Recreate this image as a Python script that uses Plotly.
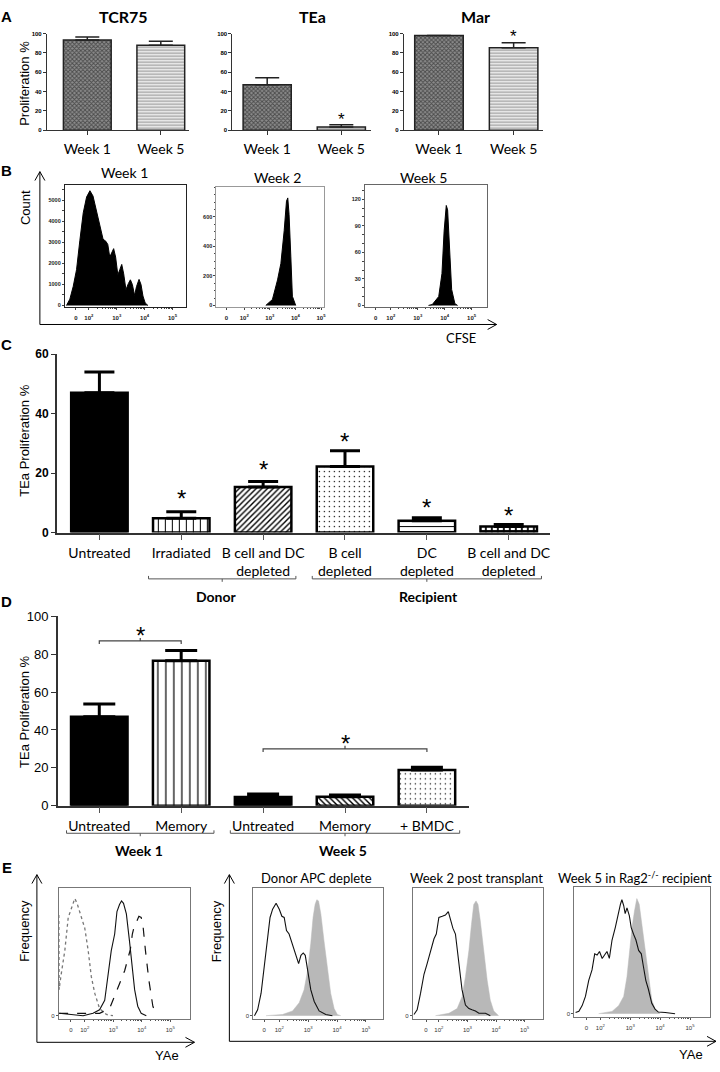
import numpy as np
import plotly.graph_objects as go

W, H = 720, 1072

# ---------------- Panel A data ----------------
a_titles = ["TCR75", "TEa", "Mar"]
a_weeks = ["Week 1", "Week 5"]
a_tcr75 = [93.5, 88.0]
a_tcr75_err = [3.0, 4.0]
a_tea = [47.0, 3.4]
a_tea_err = [7.3, 2.2]
a_mar = [98.0, 85.5]
a_mar_err = [0.0, 5.0]
a_star_y = [None, 15.0, 101.0]

# ---------------- Panel B data (CFSE histograms, x in log10 display units) ----------------
b_titles = ["Week 1", "Week 2", "Week 5"]
b1_log = [1.20, 1.32, 1.44, 1.56, 1.68, 1.80, 1.92, 2.04, 2.15, 2.27, 2.39, 2.51, 2.61, 2.68,
          2.75, 2.82, 2.89, 2.96, 3.04, 3.11, 3.18, 3.25, 3.33, 3.42, 3.49, 3.56, 3.64, 3.71,
          3.80, 3.87, 3.94, 4.02, 4.12]
b1_count = [0, 300, 900, 1700, 3100, 4400, 5150, 5450, 5200, 4500, 3800, 3150, 3050, 2900,
            2300, 2550, 2700, 2300, 1450, 1700, 1950, 1500, 750, 1050, 1220, 1000, 480, 900,
            1240, 1000, 450, 120, 0]
b2_log = [2.84, 3.10, 3.30, 3.43, 3.56, 3.65, 3.70, 3.75, 3.82, 3.88, 4.01]
b2_count = [0, 40, 173, 284, 507, 707, 729, 618, 329, 62, 0]
b3_log = [3.40, 3.54, 3.78, 3.90, 3.98, 4.06, 4.11, 4.19, 4.26, 4.38, 4.48]
b3_count = [0, 1, 10, 36, 84, 113, 108, 62, 18, 2, 0]
b1_yticks = [0, 1000, 2000, 3000, 4000, 5000]
b2_yticks = [0, 200, 400, 600]
b3_yticks = [0, 30, 60, 90, 120]
flow_ticktext = ["0", "10<sup>2</sup>", "10<sup>3</sup>", "10<sup>4</sup>", "10<sup>5</sup>"]

# ---------------- Panel C data ----------------
c_labels = ["Untreated", "Irradiated", "B cell and DC<br>depleted", "B cell<br>depleted",
            "DC<br>depleted", "B cell and DC<br>depleted"]
c_values = [47.0, 4.8, 15.3, 22.2, 4.0, 2.0]
c_errors = [7.0, 2.2, 1.9, 5.3, 1.0, 0.7]
c_star_y = [None, 13.3, 23.0, 32.5, 10.3, 7.6]
c_groups = ["Donor", "Recipient"]
c_group_members = [[1, 2], [3, 4, 5]]

# ---------------- Panel D data ----------------
d_labels = ["Untreated", "Memory", "Untreated", "Memory", "+ BMDC"]
d_values = [47.0, 76.5, 4.6, 4.7, 18.8]
d_errors = [6.7, 5.4, 1.5, 0.9, 1.5]
d_groups = ["Week 1", "Week 5"]
d_group_members = [[0, 1], [2, 3, 4]]
d_sig_pairs = [[0, 1], [2, 4]]
d_sig_y = [87.0, 30.0]

# ---------------- Panel E data (YAe histograms, % of max) ----------------
e_titles = ["Donor APC deplete", "Week 2 post transplant", "Week 5 in Rag2<sup>-/-</sup> recipient"]
e1_dot_log = [1.09, 1.10, 1.16, 1.30, 1.42, 1.53, 1.65, 1.73, 1.88, 2.00, 2.12, 2.23, 2.35, 2.52, 2.76, 2.99]
e1_dot_f = [85, 22, 33, 55, 83, 91, 99, 95, 83, 74, 55, 33, 19, 6, 1, 0]
e1_sol_log = [1.10, 1.94, 2.29, 2.52, 2.70, 2.82, 2.93, 3.05, 3.13, 3.22, 3.29, 3.36, 3.46, 3.57, 3.67, 3.75, 3.86, 3.98, 4.16]
e1_sol_f = [2, 0, 2, 5, 13, 33, 55, 69, 88, 94, 97, 95, 86, 63, 41, 22, 8, 2, 0]
e1_dash_log = [1.10, 2.52, 2.87, 3.05, 3.22, 3.40, 3.52, 3.60, 3.67, 3.75, 3.83, 3.90, 3.98, 4.04, 4.13, 4.25, 4.39, 4.51]
e1_dash_f = [2, 2, 6, 16, 27, 38, 49, 56, 69, 77, 80, 84, 83, 77, 55, 30, 8, 0]

e2_line_log = [1.14, 1.25, 1.37, 1.48, 1.60, 1.68, 1.77, 1.89, 2.00, 2.09, 2.17, 2.25, 2.34, 2.44,
               2.52, 2.60, 2.67, 2.75, 2.83, 2.90, 2.98, 3.09, 3.21, 3.38, 3.61, 3.84]
e2_line_f = [0, 5, 19, 41, 69, 83, 90, 95, 90, 84, 83, 72, 69, 61, 56, 49, 44, 51, 53, 51, 38, 22, 12, 4, 1, 0]
e2_fill_log = [1.54, 2.11, 2.46, 2.69, 2.86, 2.98, 3.09, 3.17, 3.24, 3.30, 3.36, 3.44, 3.55, 3.67, 3.78, 3.90, 4.01, 4.13]
e2_fill_f = [0, 1, 4, 11, 22, 38, 61, 83, 94, 98, 97, 86, 63, 38, 19, 6, 1, 0]

e3_line_log = [1.13, 1.24, 1.36, 1.48, 1.59, 1.71, 1.83, 1.91, 2.00, 2.12, 2.23, 2.33, 2.41, 2.49,
               2.58, 2.70, 2.81, 2.93, 3.05, 3.16, 3.28, 3.40, 3.63, 3.80]
e3_line_f = [1, 5, 19, 35, 44, 55, 65, 69, 83, 84, 85, 88, 80, 74, 69, 47, 22, 9, 6, 5, 4, 2, 2, 0]
e3_fill_log = [1.88, 2.35, 2.64, 2.81, 2.93, 3.05, 3.14, 3.22, 3.30, 3.37, 3.45, 3.57, 3.69, 3.80, 3.92, 4.09]
e3_fill_f = [0, 2, 6, 16, 33, 55, 77, 94, 97, 94, 80, 55, 30, 13, 4, 0]

e4_line_log = [1.17, 1.28, 1.39, 1.50, 1.61, 1.72, 1.81, 1.89, 1.97, 2.06, 2.14, 2.22, 2.30, 2.39,
               2.50, 2.59, 2.67, 2.72, 2.78, 2.83, 2.89, 2.97, 3.03, 3.11, 3.19, 3.28, 3.37, 3.44,
               3.52, 3.61, 3.72, 3.83, 3.94, 4.17, 4.50]
e4_line_f = [1, 2, 7, 15, 29, 38, 52, 51, 54, 48, 51, 54, 48, 64, 75, 87, 95, 99, 94, 87, 92, 85,
             75, 69, 64, 55, 52, 41, 29, 21, 9, 4, 1.4, 1, 0]
e4_fill_log = [1.94, 2.39, 2.61, 2.78, 2.89, 2.97, 3.06, 3.14, 3.22, 3.30, 3.39, 3.50, 3.61, 3.72, 3.83, 4.00]
e4_fill_f = [0, 2, 7, 15, 32, 55, 75, 89, 100, 95, 78, 55, 32, 12, 4, 0]

# ---------------- helpers ----------------
def xn(i): return "xaxis" if i == 1 else f"xaxis{i}"
def yn(i): return "yaxis" if i == 1 else f"yaxis{i}"
def xr(i): return "x" if i == 1 else f"x{i}"
def yr(i): return "y" if i == 1 else f"y{i}"

LATO = "Lato"
ARIAL = "Liberation Sans"

# pixel boxes of the plotting areas: (left, right, top, bottom)
boxes = {
    1: (47, 190, 27, 125), 2: (233, 372, 27, 125), 3: (405, 545, 27, 125),
    4: (65, 187, 181, 304), 5: (217, 325, 183, 304), 6: (366, 488, 181, 304),
    7: (57, 552, 352, 533), 8: (58, 470, 618, 810),
    9: (59, 191, 894, 1026), 10: (254, 384, 894, 1026), 11: (414, 545, 894, 1026), 12: (576, 712, 892, 1024),
}

fig = go.Figure()
layout = {}
for i, (x0, x1, t, b) in boxes.items():
    layout[xn(i)] = dict(domain=[x0 / W, x1 / W], anchor=yr(i), showgrid=False, zeroline=False)
    layout[yn(i)] = dict(domain=[1 - b / H, 1 - t / H], anchor=xr(i), showgrid=False, zeroline=False)

shapes, annots = [], []

def text(x, y, s, size=14, family=LATO, bold=False, angle=0, color="black", xanchor="center"):
    annots.append(dict(x=x / W, y=1 - y / H, xref="paper", yref="paper", text=s, showarrow=False,
                       textangle=angle, xanchor=xanchor, yanchor="middle",
                       font=dict(size=size, family=family, color=color, weight="bold" if bold else "normal")))

def line_px(x0, y0, x1, y1, color="black", width=1):
    shapes.append(dict(type="line", xref="paper", yref="paper", x0=x0 / W, y0=1 - y0 / H,
                       x1=x1 / W, y1=1 - y1 / H, line=dict(color=color, width=width)))

def arrow_up(x, ytop, ybot):
    line_px(x, ybot, x, ytop)
    line_px(x - 5, ytop + 9, x, ytop)
    line_px(x + 5, ytop + 9, x, ytop)

def arrow_right(xl, xe, y):
    line_px(xl, y, xe, y)
    line_px(xe - 9, y - 5, xe, y)
    line_px(xe - 9, y + 5, xe, y)

def group_bracket(i, xa, xb, y_px, up=3, down=3):
    y = 1 - y_px / H
    yu = 1 - (y_px - up) / H
    yd = 1 - (y_px + down) / H
    xc = (xa + xb) / 2
    shapes.append(dict(type="path", xref=xr(i), yref="paper",
                       path=f"M {xa},{yu} L {xa},{y} L {xb},{y} L {xb},{yu} M {xc},{y} L {xc},{yd}",
                       line=dict(color="#555", width=1)))

def sig_bracket(i, xa, xb, y, drop):
    xc = (xa + xb) / 2
    shapes.append(dict(type="path", xref=xr(i), yref=yr(i),
                       path=f"M {xa},{y - drop} L {xa},{y} L {xb},{y} L {xb},{y - drop} M {xc},{y} L {xc},{y + drop}",
                       line=dict(color="#444", width=1.2)))

def star(i, x, y, size):
    lo, hi = layout[yn(i)]["range"]
    d0, d1 = layout[yn(i)]["domain"]
    yp = d0 + (y - lo) / (hi - lo) * (d1 - d0)
    annots.append(dict(x=x, y=yp, xref=xr(i), yref="paper", text="*", showarrow=False,
                       yanchor="middle", yshift=-0.22 * size,
                       font=dict(size=size, family=ARIAL, color="black")))

def add_bar(i, x, y, err, style, width, line_w, err_th, err_w, line_color="black"):
    color, shape, fg, size, sol = style
    marker = dict(color=color, line=dict(color=line_color, width=line_w))
    if shape:
        marker["pattern"] = dict(shape=shape, fgcolor=fg, bgcolor=color, size=size, solidity=sol,
                                 fillmode="replace")
    fig.add_trace(go.Bar(x=[x], y=[y], width=width, xaxis=xr(i), yaxis=yr(i), showlegend=False,
                         marker=marker,
                         error_y=dict(type="data", symmetric=False, array=[err], arrayminus=[0],
                                      color=line_color, thickness=err_th, width=err_w)))

# ---------------- Panel A ----------------
a_vals = [a_tcr75, a_tea, a_mar]
a_errs = [a_tcr75_err, a_tea_err, a_mar_err]
a_xranges = [[-0.55, 1.39], [-0.47, 1.40], [-0.47, 1.40]]
a_styles = [("#8c8c8c", "x", "#4a4a4a", 3, 0.5), ("#ffffff", "-", "#9c9c9c", 3, 0.5)]
for k in range(3):
    i = k + 1
    for j in range(2):
        add_bar(i, j, a_vals[k][j], a_errs[k][j], a_styles[j], 0.65, 1.5, 1.5, 12, "#222")
    layout[xn(i)].update(range=a_xranges[k], tickvals=[0, 1], ticktext=a_weeks, ticks="outside",
                         ticklen=4, tickcolor="#333", showline=True, linecolor="#333", linewidth=1,
                         tickfont=dict(family=LATO, size=14, color="black"), ticklabelstandoff=2)
    layout[yn(i)].update(range=[0, 100], tickvals=[0, 20, 40, 60, 80, 100], ticks="outside", ticklen=3,
                         tickcolor="#333", showline=True, linecolor="#333", linewidth=1,
                         tickfont=dict(family=ARIAL, size=6, color="black", weight="bold"))
    if a_star_y[k] is not None:
        star(i, 1, a_star_y[k], 17)
a_title_x = [124, 313, 477]
for k in range(3):
    text(a_title_x[k], 10, a_titles[k], size=16, bold=True)
text(25, 77, "Proliferation %", size=13, family=ARIAL, angle=-90)

# ---------------- Panel B ----------------
b_data = [(b1_log, b1_count), (b2_log, b2_count), (b3_log, b3_count)]
b_xranges = [[1.14, 5.5], [0.91, 5.12], [1.04, 5.56]]
b_zero = [1.54, 1.30, 1.44]
b_yranges = [[-60, 5700], [-9, 800], [-1.5, 135.6]]
b_yticks = [b1_yticks, b2_yticks, b3_yticks]
b_minor = [500, 50, 10]
minor_vals = [d + np.log10(m) for d in (2, 3, 4) for m in range(2, 10)]
b_title_pos = [(125, 168), (278, 173), (425, 173)]
b_line = ["#222", "#999", "#666"]
for k in range(3):
    i = 4 + k
    xs, ys = b_data[k]
    fig.add_trace(go.Scatter(x=xs, y=ys, mode="lines", fill="tozeroy", fillcolor="black",
                             line=dict(color="black", width=1), xaxis=xr(i), yaxis=yr(i), showlegend=False))
    layout[xn(i)].update(range=b_xranges[k], tickvals=[b_zero[k], 2, 3, 4, 5], ticktext=flow_ticktext,
                         ticks="outside", ticklen=2, tickcolor="#444", showline=True, mirror=True,
                         linecolor=b_line[k], linewidth=1, ticklabelstandoff=3,
                         tickfont=dict(family=ARIAL, size=6, color="#222", weight="bold"),
                         minor=dict(tickmode="array", tickvals=minor_vals, ticks="outside", ticklen=1.5,
                                    tickcolor="#444"))
    layout[yn(i)].update(range=b_yranges[k], tickvals=b_yticks[k], ticks="outside", ticklen=2,
                         tickcolor="#444", showline=True, mirror=True, linecolor=b_line[k], linewidth=1,
                         tickfont=dict(family=ARIAL, size=5.5, color="#222", weight="bold"),
                         minor=dict(dtick=b_minor[k], ticks="outside", ticklen=1.5, tickcolor="#444"))
    text(b_title_pos[k][0], b_title_pos[k][1], b_titles[k], size=14)
arrow_up(40, 167, 322)
arrow_right(40, 498, 322)
text(25, 203, "Count", size=13, family=ARIAL, angle=-90)
text(462, 336, "CFSE", size=13)

# ---------------- Panel C ----------------
c_idx = list(range(len(c_values)))
c_styles = [("black", "", None, 0, 0),
            ("white", "|", "black", 7, 0.15),
            ("white", "/", "black", 4, 0.35),
            ("white", ".", "black", 5, 0.06),
            ("white", "-", "black", 5, 0.2),
            ("white", "+", "black", 6, 0.5)]
for k in c_idx:
    add_bar(7, k, c_values[k], c_errors[k], c_styles[k], 0.69, 2.5, 3, 15)
layout["xaxis7"].update(range=[-0.52, 5.51], tickvals=c_idx, ticktext=c_labels, ticks="outside", ticklen=6,
                        tickcolor="#555", showline=True, linecolor="#333", linewidth=1.5,
                        tickfont=dict(family=LATO, size=14, color="black"), ticklabelstandoff=1)
layout["yaxis7"].update(range=[0, 60], tickvals=[0, 20, 40, 60], ticks="outside", ticklen=4, tickcolor="#333",
                        showline=True, linecolor="#333", linewidth=1.5,
                        tickfont=dict(family=ARIAL, size=12, color="black", weight="bold"))
for k in c_idx:
    if c_star_y[k] is not None:
        star(7, k, c_star_y[k], 24)
c_group_px = [217, 430]
for g, members in enumerate(c_group_members):
    group_bracket(7, members[0] - 0.4, members[-1] + 0.4, 580)
    text(c_group_px[g], 598, c_groups[g], size=14, bold=True)
text(25, 440, "TEa Proliferation %", size=13, family=ARIAL, angle=-90)

# ---------------- Panel D ----------------
d_idx = list(range(len(d_values)))
d_styles = [("black", "", None, 0, 0),
            ("white", "|", "black", 8, 0.15),
            ("black", "", None, 0, 0),
            ("white", "\\", "black", 4, 0.35),
            ("white", ".", "black", 5, 0.06)]
for k in d_idx:
    add_bar(8, k, d_values[k], d_errors[k], d_styles[k], 0.69, 2.5, 3, 16)
layout["xaxis8"].update(range=[-0.506, 4.51], tickvals=d_idx, ticktext=d_labels, ticks="outside", ticklen=6,
                        tickcolor="#555", showline=True, linecolor="#333", linewidth=1.5,
                        tickfont=dict(family=LATO, size=14, color="black"), ticklabelstandoff=1)
layout["yaxis8"].update(range=[0, 100], tickvals=[0, 20, 40, 60, 80, 100], ticks="outside", ticklen=5,
                        tickcolor="#333", showline=True, linecolor="#333", linewidth=1.5,
                        tickfont=dict(family=ARIAL, size=13, color="black"))
for (a, b), y in zip(d_sig_pairs, d_sig_y):
    sig_bracket(8, a, b, y, 1.6)
    star(8, (a + b) / 2, y + 5.5, 24)
d_group_px = [139, 344]
for g, members in enumerate(d_group_members):
    group_bracket(8, members[0] - 0.4, members[-1] + 0.4, 838)
    text(d_group_px[g], 855, d_groups[g], size=14, bold=True)
text(25, 715, "TEa Proliferation %", size=13, family=ARIAL, angle=-90)

# ---------------- Panel E ----------------
e_xranges = {9: [1.09, 5.71], 10: [1.10, 5.59], 11: [1.09, 5.66], 12: [1.13, 5.67]}
e_zero = {9: 1.51, 10: 1.48, 11: 1.55, 12: 1.53}
e_yranges = {9: [-2.5, 107.5], 10: [-2.5, 107.5], 11: [-2.5, 107.5], 12: [-2.6, 110.5]}

fig.add_trace(go.Scatter(x=e1_dot_log, y=e1_dot_f, mode="lines", line=dict(color="#777", width=1.3, dash="dot"),
                         xaxis="x9", yaxis="y9", showlegend=False))
fig.add_trace(go.Scatter(x=e1_sol_log, y=e1_sol_f, mode="lines", line=dict(color="#111", width=1.1),
                         xaxis="x9", yaxis="y9", showlegend=False))
fig.add_trace(go.Scatter(x=e1_dash_log, y=e1_dash_f, mode="lines", line=dict(color="#111", width=1.2, dash="dash"),
                         xaxis="x9", yaxis="y9", showlegend=False))
e_pairs = {10: (e2_fill_log, e2_fill_f, e2_line_log, e2_line_f),
           11: (e3_fill_log, e3_fill_f, e3_line_log, e3_line_f),
           12: (e4_fill_log, e4_fill_f, e4_line_log, e4_line_f)}
for i, (fx, fy, lx, ly) in e_pairs.items():
    fig.add_trace(go.Scatter(x=fx, y=fy, mode="lines", fill="tozeroy", fillcolor="#b8b8b8",
                             line=dict(color="#b8b8b8", width=0.5), xaxis=xr(i), yaxis=yr(i), showlegend=False))
    fig.add_trace(go.Scatter(x=lx, y=ly, mode="lines", line=dict(color="#111", width=1.1),
                             xaxis=xr(i), yaxis=yr(i), showlegend=False))
for i in (9, 10, 11, 12):
    layout[xn(i)].update(range=e_xranges[i], tickvals=[e_zero[i], 2, 3, 4, 5], ticktext=flow_ticktext,
                         ticks="outside", ticklen=2, tickcolor="#555", showline=True, mirror=True,
                         linecolor="#777", linewidth=1, ticklabelstandoff=3,
                         tickfont=dict(family=ARIAL, size=6, color="#333"),
                         minor=dict(tickmode="array", tickvals=minor_vals, ticks="outside", ticklen=1.5,
                                    tickcolor="#555"))
    layout[yn(i)].update(range=e_yranges[i], tickvals=[0], ticktext=["0"], ticks="outside", ticklen=2,
                         tickcolor="#555", showline=True, mirror=True, linecolor="#777", linewidth=1,
                         tickfont=dict(family=ARIAL, size=6, color="#333"))
e_title_x = [317, 478, 637]
for k in range(3):
    text(e_title_x[k], 883, e_titles[k], size=13)
arrow_up(37, 880, 1050)
arrow_right(37, 195, 1050)
arrow_up(230, 880, 1049)
arrow_right(230, 718, 1049)
text(25, 937, "Frequency", size=13, family=ARIAL, angle=-90)
text(217, 937, "Frequency", size=13, family=ARIAL, angle=-90)
text(167, 1063, "YAe", size=13, family=ARIAL)
text(693, 1062, "YAe", size=13, family=ARIAL)

# ---------------- Panel letters ----------------
for letter, y in zip(["A", "B", "C", "D", "E"], [10, 166, 342, 603, 873]):
    text(7, y, letter, size=15, family=ARIAL, bold=True, xanchor="center")

layout.update(width=W, height=H, margin=dict(l=0, r=0, t=0, b=0), autosize=False,
              paper_bgcolor="white", plot_bgcolor="white", showlegend=False,
              shapes=shapes, annotations=annots, barmode="overlay")
fig.update_layout(**layout)
fig.write_html("out.html", config={"displayModeBar": False},
               post_script="document.body.style.margin='0px';")
